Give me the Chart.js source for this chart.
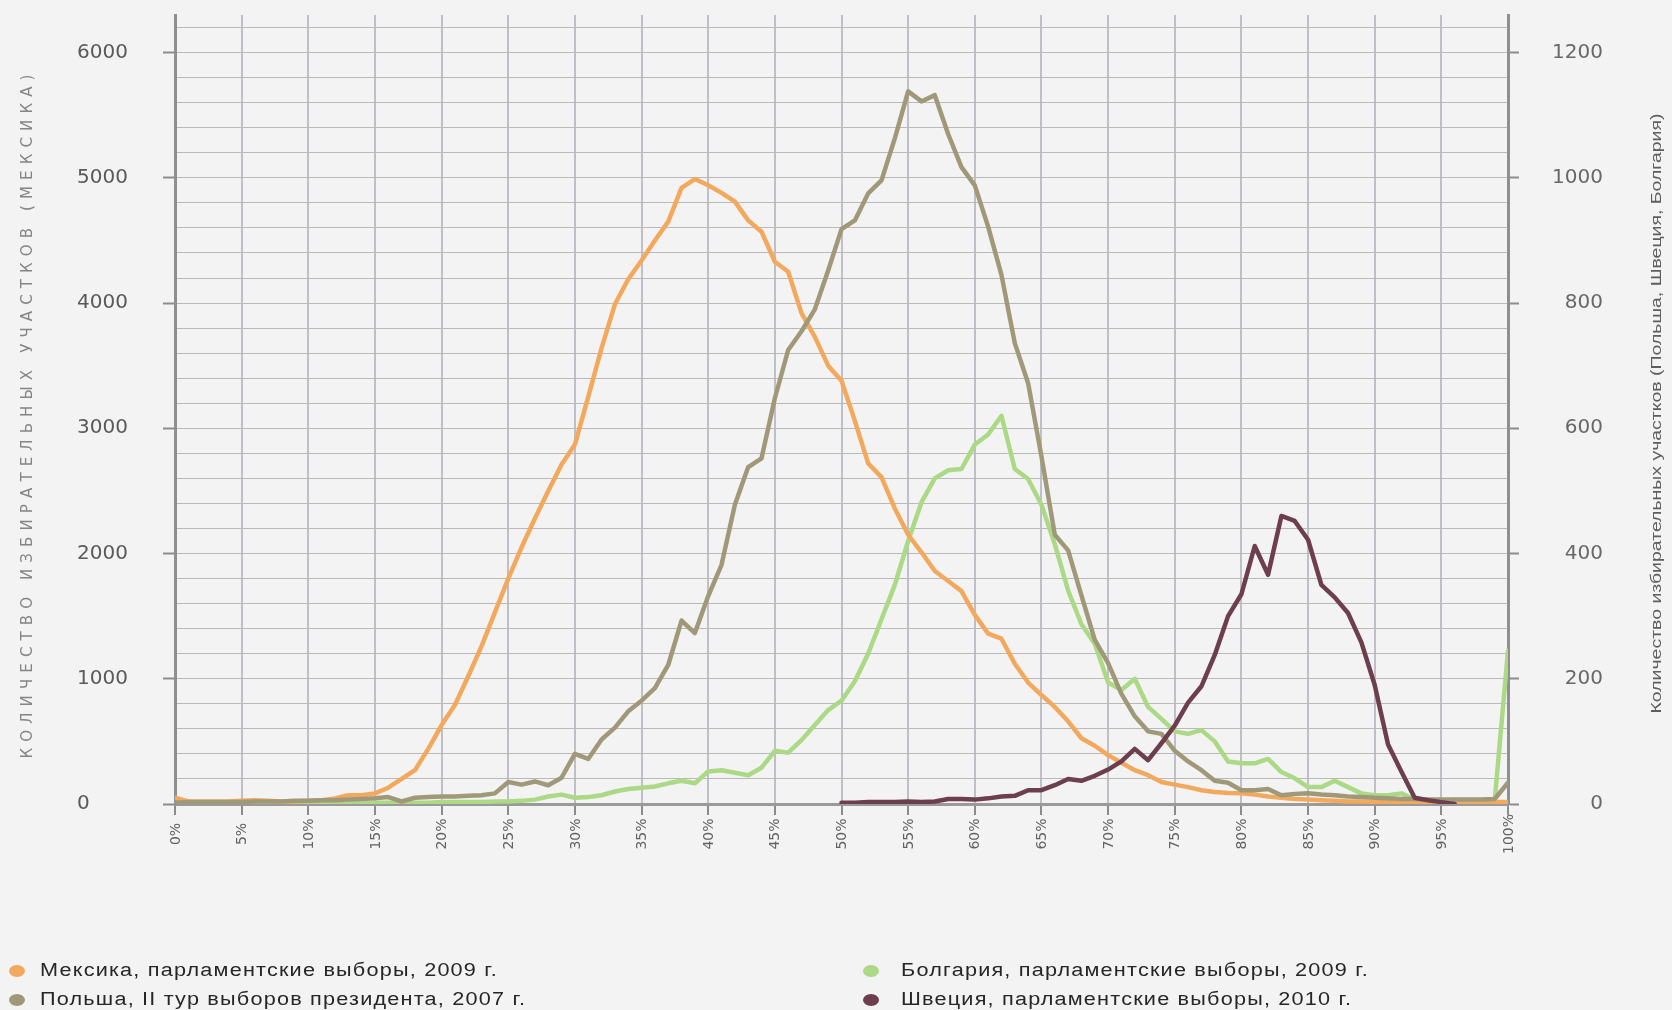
<!DOCTYPE html>
<html><head><meta charset="utf-8">
<script src="https://cdn.jsdelivr.net/npm/chart.js@4.4.1/dist/chart.umd.min.js"></script>
<style>html,body{margin:0;padding:0;background:#f3f3f3;}#wrap{width:1672px;height:1010px;position:relative;}</style>
</head><body><div id="wrap"><canvas id="c" width="1672" height="1010"></canvas></div>
<script>
// ---- categories: turnout percent (0..100, step 1) ----
const turnoutPercents = [];
for (let p = 0; p <= 100; p++) turnoutPercents.push(p);

// ---- series (number of polling stations per 1% of turnout) ----
// Mexico – left axis
const mexico = [50,20,20,20,20,25,30,25,20,20, 25,30,45,70,70,85,130,200,270,440,
  630,790,1020,1260,1530,1800,2050,2280,2500,2710, 2870,3250,3640,3990,4190,4340,4500,4650,4920,4990,
  4940,4880,4810,4660,4570,4330,4250,3920,3730,3500, 3380,3060,2720,2610,2360,2150,2010,1860,1780,1700,
  1510,1360,1320,1120,970,870,775,660,525,465, 390,330,270,230,175,155,135,110,95,88,
  85,75,60,50,40,35,30,25,20,20, 18,18,16,16,15,15,15,15,15,15, 15];
// Poland – right axis
const poland = [2,3,3,3,3,3,4,4,4,5, 5,6,6,7,8,9,11,4,10,11,
  12,12,13,14,17,35,31,36,30,42, 80,72,103,122,148,165,185,222,293,273,
  332,382,478,538,552,648,725,755,790,852, 918,932,975,996,1063,1138,1122,1132,1070,1017,
  988,922,845,736,672,555,430,405,333,262, 225,176,140,116,112,85,68,54,37,34,
  22,22,24,14,16,17,15,14,12,11, 10,9,8,8,7,7,7,7,7,8, 34];
// Bulgaria – right axis
const bulgaria = [0,0,0,0,0,0,0,0,1,1, 1,1,1,1,1,2,2,2,2,2,
  3,3,3,3,4,4,5,7,12,15, 10,11,14,20,24,26,28,33,37,33,
  52,54,50,46,58,85,82,102,126,150, 165,196,240,295,350,420,482,520,533,535,
  574,590,620,535,519,478,415,341,287,256, 194,182,200,155,136,116,112,118,100,68,
  65,65,72,51,41,27,27,37,27,17, 14,14,17,7,5,3,7,4,3,5, 245];
// Sweden – right axis, values from 50% to 96%
const swedenFromPercent = 50;
const swedenValues = [2,2,3,3,3,4,3,4,8,8, 7,9,12,13,22,22,30,40,37,45,
  55,68,88,70,97,125,162,188,238,300, 335,412,366,460,452,422,350,330,305,258,
  190,95,52,10,6,3,0];

const seriesNames = [
  'Мексика, парламентские выборы, 2009 г.',
  'Польша, II тур выборов президента, 2007 г.',
  'Болгария, парламентские выборы, 2009 г.',
  'Швеция, парламентские выборы, 2010 г.'
];

// ---- tick labels ----
const xTickValues = [0,5,10,15,20,25,30,35,40,45,50,55,60,65,70,75,80,85,90,95,100];
const xTickLabels = ['0%','5%','10%','15%','20%','25%','30%','35%','40%','45%','50%','55%','60%','65%','70%','75%','80%','85%','90%','95%','100%'];
const leftLabelValues = [0,1000,2000,3000,4000,5000,6000];
const leftGridStep = 200, leftGridTop = 6200, leftMax = 6300;
const rightLabelValues = [0,200,400,600,800,1000,1200];
const rightMax = 1260;
const leftTitle = 'КОЛИЧЕСТВО ИЗБИРАТЕЛЬНЫХ УЧАСТКОВ (МЕКСИКА)';
const rightTitle = 'Количество избирательных участков (Польша, Швеция, Болгария)';

// ---- styles ----
const colors = ['#f2a95e', '#a09979', '#abd985', '#6d3f4e'];
const pageBg = '#f3f3f3';

function toXY(arr, start) {
  return arr.map((v, i) => ({x: turnoutPercents[i + (start || 0)], y: v}));
}

const leftGridTicks = [];
for (let v = 0; v <= leftGridTop; v += leftGridStep) leftGridTicks.push(v);

function drawRotated(ctx, text, cx, cy, len, font, color, mode) {
  ctx.save();
  ctx.font = font; ctx.fillStyle = color;
  ctx.textAlign = 'center'; ctx.textBaseline = 'middle';
  ctx.translate(cx, cy); ctx.rotate(-Math.PI / 2);
  const w = ctx.measureText(text).width;
  if (mode === 'spacing' && ('letterSpacing' in ctx)) {
    ctx.letterSpacing = ((len - w) / (text.length)) + 'px';
    ctx.fillText(text, 0, 0);
  } else {
    ctx.scale(len / w, 1);
    ctx.fillText(text, 0, 0);
  }
  ctx.restore();
}

const decor = {
  id: 'decor',
  beforeDraw(chart) {
    const c = chart.ctx; c.save(); c.fillStyle = pageBg; c.fillRect(0, 0, chart.width, chart.height); c.restore();
  },
  afterDraw(chart) {
    const ctx = chart.ctx;
    const xs = chart.scales.x;
    const ca = chart.chartArea;
    // x tick labels, rotated and centered
    ctx.save();
    ctx.font = '14px "DejaVu Sans"';
    ctx.fillStyle = '#626262';
    ctx.textAlign = 'center'; ctx.textBaseline = 'middle';
    xTickValues.forEach((v, i) => {
      const px = xs.getPixelForValue(v);
      ctx.save(); ctx.translate(px + 1, xs.top + 30); ctx.rotate(-Math.PI / 2);
      ctx.fillText(xTickLabels[i], 0, 0); ctx.restore();
    });
    ctx.restore();
    const midY = (ca.top + ca.bottom) / 2 + 4;
    drawRotated(ctx, leftTitle, 28, midY, 690, '15px "DejaVu Sans"', '#858585', 'spacing');
    drawRotated(ctx, rightTitle, 1657, midY, 600, '15px "Liberation Sans"', '#5e5e5e', 'scale');
    // legend
    ctx.save();
    ctx.font = '18px "Liberation Sans"';
    ctx.textBaseline = 'middle'; ctx.textAlign = 'left';
    const hasLS = ('letterSpacing' in ctx);
    if (hasLS) ctx.letterSpacing = '1px';
    const w0 = ctx.measureText(seriesNames[0]).width;
    const sx = 458 / w0;
    const cols = [17, 871], rows = [971, 1000];
    const place = [[0,0],[0,1],[1,0],[1,1]];
    seriesNames.forEach((name, i) => {
      const [c, r] = place[i];
      ctx.fillStyle = colors[i];
      ctx.beginPath(); ctx.ellipse(cols[c], rows[r], 8, 6, 0, 0, Math.PI * 2); ctx.fill();
      ctx.fillStyle = '#262626';
      ctx.save();
      ctx.translate(cols[c] + 23 + (c ? 7 : 0), rows[r]);
      ctx.scale(sx, 1);
      ctx.fillText(name, 0, 0);
      ctx.restore();
    });
    ctx.restore();
  }
};

const sweden = toXY(swedenValues, swedenFromPercent);

new Chart(document.getElementById('c'), {
  type: 'line',
  data: {
    datasets: [
      {label: seriesNames[0], data: toXY(mexico), yAxisID: 'y', borderColor: colors[0], order: 2},
      {label: seriesNames[1], data: toXY(poland), yAxisID: 'y1', borderColor: colors[1], order: 1},
      {label: seriesNames[2], data: toXY(bulgaria), yAxisID: 'y1', borderColor: colors[2], order: 3},
      {label: seriesNames[3], data: sweden, yAxisID: 'y1', borderColor: colors[3], order: 0}
    ]
  },
  options: {
    responsive: false, animation: false,
    layout: {padding: {left: 77, right: 69, top: 14, bottom: 0}},
    elements: {
      point: {radius: 0},
      line: {borderWidth: 4.5, tension: 0, borderJoinStyle: 'round', borderCapStyle: 'round', fill: false}
    },
    plugins: {legend: {display: false}, tooltip: {enabled: false}},
    scales: {
      x: {
        type: 'linear', min: 0, max: 100,
        afterBuildTicks: s => { s.ticks = xTickValues.map(v => ({value: v})); },
        afterFit: s => { s.height = 206; },
        ticks: {display: false},
        grid: {
          color: c => (c.tick && (c.tick.value === 0 || c.tick.value === 100)) ? 'rgba(0,0,0,0)' : '#bfbfc8',
          lineWidth: 2, drawTicks: true, tickLength: 11, tickColor: '#8c8c8c', tickWidth: 2
        },
        border: {display: true, color: '#9a9a9a', width: 3}
      },
      y: {
        type: 'linear', position: 'left', min: 0, max: leftMax,
        afterBuildTicks: s => { s.ticks = leftGridTicks.map(v => ({value: v})); },
        afterFit: s => { s.width = 98; },
        ticks: {
          callback: v => leftLabelValues.includes(v) ? String(v) : '',
          crossAlign: 'far', font: {family: 'DejaVu Sans', size: 20}, color: '#5a5a5a', autoSkip: false
        },
        grid: {
          color: c => (c.tick && c.tick.value === 0) ? 'rgba(0,0,0,0)' : '#b9b9b9',
          lineWidth: 1, drawTicks: true, tickLength: 12,
          tickColor: c => (c.tick && leftLabelValues.includes(c.tick.value)) ? '#8c8c8c' : 'rgba(0,0,0,0)', tickWidth: 2
        },
        border: {display: true, color: '#8f8f8f', width: 3}
      },
      y1: {
        type: 'linear', position: 'right', min: 0, max: rightMax,
        afterBuildTicks: s => { s.ticks = rightLabelValues.map(v => ({value: v})); },
        afterFit: s => { s.width = 95; },
        ticks: {callback: v => String(v), crossAlign: 'far', font: {family: 'DejaVu Sans', size: 20}, color: '#686868', autoSkip: false},
        grid: {drawOnChartArea: false, drawTicks: true, tickLength: 11, tickColor: '#8c8c8c', tickWidth: 2},
        border: {display: true, color: '#8f8f8f', width: 3}
      }
    }
  },
  plugins: [decor]
});
</script>
</body></html>
